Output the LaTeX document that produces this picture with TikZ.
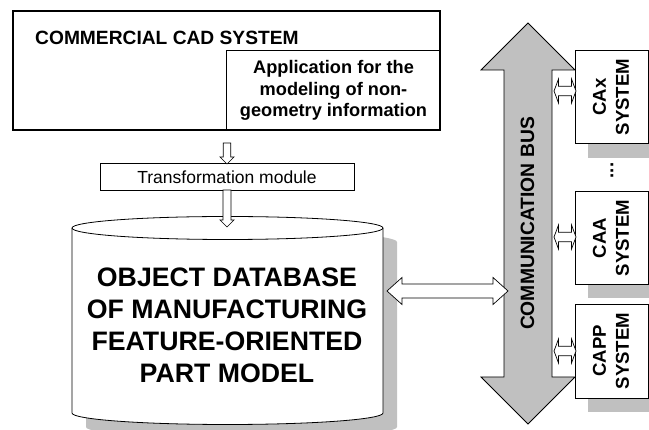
\documentclass[tikz,border=0pt]{standalone}
\usepackage{fontspec}
\setmainfont{Liberation Sans}
\usetikzlibrary{calc}
\tikzset{
  plainbox/.style={draw=black,fill=white,line width=0.8pt,minimum width=#1,inner sep=0pt,outer sep=0pt,anchor=north west},
  sysbox/.style={draw=black,fill=white,line width=0.8pt,minimum width=73pt,inner sep=0pt,outer sep=0pt,align=center},
  blockline/.style={draw=black,fill=white,line width=0.7pt,line join=miter},
  busline/.style={draw=black,fill=shadowgray,line width=0.8pt,line join=miter},
  bigtext/.style={font=\bfseries\fontsize{26.7}{32}\selectfont,align=center},
  midtext/.style={font=\bfseries\fontsize{19.3}{21.6}\selectfont,align=center},
  systext/.style={font=\bfseries\fontsize{18.6}{23}\selectfont,align=center,rotate=90}
}
\definecolor{shadowgray}{HTML}{C0C0C0}
% down arrow: from, to, shaft half width, head half width, head length, style
\newcommand\blockdown[6]{\path[#6] let \p1=(#1),\p2=(#2) in
  (\x1-#3,\y1) -- (\x1+#3,\y1) -- (\x1+#3,\y2+#5) -- (\x1+#4,\y2+#5) -- (\x2,\y2)
  -- (\x1-#4,\y2+#5) -- (\x1-#3,\y2+#5) -- cycle;}
% horizontal double arrow: left, right
\newcommand\blockhoriz[6]{\path[#6] let \p1=(#1),\p2=(#2) in
  (\x1,\y1) -- (\x1+#5,\y1+#4) -- (\x1+#5,\y1+#3) -- (\x2-#5,\y1+#3) -- (\x2-#5,\y1+#4) -- (\x2,\y1)
  -- (\x2-#5,\y1-#4) -- (\x2-#5,\y1-#3) -- (\x1+#5,\y1-#3) -- (\x1+#5,\y1-#4) -- cycle;}
% vertical double arrow: top, bottom
\newcommand\blockvert[6]{\path[#6] let \p1=(#1),\p2=(#2) in
  (\x1,\y1) -- (\x1+#4,\y1-#5) -- (\x1+#3,\y1-#5) -- (\x1+#3,\y2+#5) -- (\x1+#4,\y2+#5) -- (\x1,\y2)
  -- (\x1-#4,\y2+#5) -- (\x1-#3,\y2+#5) -- (\x1-#3,\y1-#5) -- (\x1-#4,\y1-#5) -- cycle;}
\newcommand\cylbody{(72,228) -- (72,413) .. controls (72,419.35) and (141.6,424.5) .. (227.5,424.5)
  .. controls (313.4,424.5) and (383,419.35) .. (383,413) -- (383,228)
  .. controls (383,221.65) and (313.4,216.5) .. (227.5,216.5)
  .. controls (141.6,216.5) and (72,221.65) .. (72,228) -- cycle}
\begin{document}
\begin{tikzpicture}[x=1pt,y=-1pt]
\useasboundingbox (0,0) rectangle (649,430);
\fill[white] (0,0) rectangle (649,430);
\begin{scope}
\clip (0,0) rectangle (649,430);
% shadows
\begin{scope}[shift={(14,14)}]
  \fill[shadowgray] \cylbody;
\end{scope}
\fill[shadowgray] (588,60) rectangle (649,158);
\fill[shadowgray] (588,200) rectangle (649,298);
\fill[shadowgray] (588,315) rectangle (649,412);
\end{scope}
% CAD system
\draw[black,fill=white,line width=1.3pt] (13,11) rectangle (440,130);
\node[font=\bfseries\fontsize{19.2}{22}\selectfont,anchor=west,inner sep=0pt] (cad) at (35,37.5) {COMMERCIAL CAD SYSTEM};
\node[draw=black,fill=white,line width=0.8pt,minimum width=213.5pt,minimum height=80pt,inner sep=0pt,outer sep=0pt,anchor=north west] (app) at (226.5,50) {};
\node[font=\bfseries\fontsize{18.2}{21.6}\selectfont,align=center] (apptext) at (333.5,90.5) {Application for the\\modeling of non-\\geometry information};
\draw[black,line width=1.3pt] (13,130) -- (440,130) -- (440,11);
% transformation
\node[plainbox=254pt,minimum height=26.5pt,font=\fontsize{17.5}{20}\selectfont] (trans) at (100,163.5) {Transformation module};
\coordinate (a1) at (227,143);
\coordinate (a1tip) at (227,164);
\blockdown{a1}{a1tip}{3.7pt}{7pt}{7pt}{blockline}
\coordinate (a2tip) at (227,227);
% database
\draw[black,fill=white,line width=0.8pt] \cylbody;
\draw[black,line width=0.8pt] (72,228) .. controls (72,234.35) and (141.6,239.5) .. (227.5,239.5)
  .. controls (313.4,239.5) and (383,234.35) .. (383,228);
\blockdown{trans.south}{a2tip}{4pt}{7pt}{7pt}{blockline}
\node[bigtext] (db) at (227,325) {OBJECT DATABASE\\OF MANUFACTURING\\FEATURE-ORIENTED\\PART MODEL};
% bus
\coordinate (bustop) at (528,23);
\coordinate (busbot) at (528,424);
\blockvert{bustop}{busbot}{24pt}{47pt}{47pt}{busline}
\node[midtext,rotate=90] (bus) at (527.5,223.5) {COMMUNICATION BUS};
% db - bus
\coordinate (dbr) at (387,291);
\coordinate (busl) at (508,291);
\blockhoriz{dbr}{busl}{7pt}{13.5pt}{15pt}{blockline}
% systems
\node[sysbox,minimum height=93pt,anchor=north west] (caxbox) at (575,50) {};
\node[sysbox,minimum height=93pt,anchor=north west] (caabox) at (575,191) {};
\node[sysbox,minimum height=94pt,anchor=north west] (cappbox) at (575,304) {};
\node[systext] (cax) at (611,97) {CAx\\SYSTEM};
\node[systext] (caa) at (611,238) {CAA\\SYSTEM};
\node[systext] (capp) at (611,351) {CAPP\\SYSTEM};
\node[font=\bfseries\fontsize{18.6}{22}\selectfont,rotate=90,inner sep=0pt] (dots) at (612,170.5) {...};
% small arrows
\coordinate (l1) at (554,91); \coordinate (r1) at (576,91);
\coordinate (l2) at (554,237); \coordinate (r2) at (576,237);
\coordinate (l3) at (554,351); \coordinate (r3) at (576,351);
\blockhoriz{l1}{r1}{4.7pt}{12pt}{4.5pt}{blockline}
\blockhoriz{l2}{r2}{4.7pt}{12pt}{4.5pt}{blockline}
\blockhoriz{l3}{r3}{4.7pt}{12pt}{4.5pt}{blockline}
\end{tikzpicture}
\end{document}
